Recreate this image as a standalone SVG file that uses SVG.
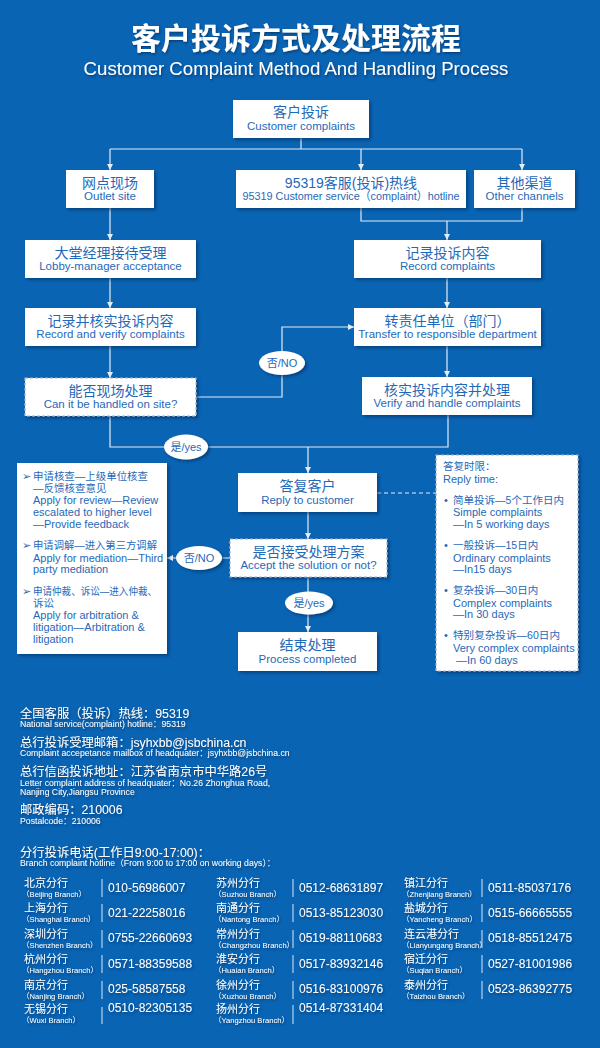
<svg xmlns="http://www.w3.org/2000/svg" width="600" height="1048" viewBox="0 0 600 1048">
<defs>
<filter id="bs" x="-10%" y="-10%" width="130%" height="140%"><feDropShadow dx="2" dy="2" stdDeviation="1.5" flood-color="#002a55" flood-opacity="0.55"/></filter>
<filter id="ts" x="-5%" y="-20%" width="110%" height="160%"><feDropShadow dx="1" dy="1.5" stdDeviation="1" flood-color="#00284f" flood-opacity="0.6"/></filter>
<marker id="ar" markerUnits="userSpaceOnUse" markerWidth="7" markerHeight="7" refX="6" refY="3" orient="auto"><path d="M0,0 L6,3 L0,6 z" fill="#e4ecf5"/></marker>
<style>
.f{font-family:"Liberation Sans","Noto Sans CJK SC",sans-serif}
.box{fill:#fff;filter:url(#bs)}
.dbox{fill:#fff;stroke:#9db3cc;stroke-width:1.2;stroke-dasharray:3 2;filter:url(#bs)}
.cn{font-size:14px;fill:#1f69b9;text-anchor:middle}
.en{font-size:11.5px;fill:#1f69b9;text-anchor:middle}
.el{fill:#fff;filter:url(#bs)}
.et{font-size:11px;fill:#1f69b9;text-anchor:middle}
.conn{fill:none;stroke:#e4ecf5;stroke-width:1.2}
.lt{font-size:11px;fill:#1f69b9}
.lc{font-size:10.5px;fill:#1f69b9}
.w{fill:#fff;filter:url(#ts)}
.h1{font-size:12.3px}
.h2{font-size:8.7px}
.bn{font-size:11px}
.bs{font-size:7.6px}
.ph{font-size:12px}
.sep{stroke:#dce6f2;stroke-width:1}
</style>
</defs>
<rect width="600" height="1048" fill="#0964b4"/>
<g id="title" class="f">
<text x="296" y="49" text-anchor="middle" font-size="30" font-weight="bold" class="w">客户投诉方式及处理流程</text>
<text x="296" y="75" text-anchor="middle" font-size="18.6" class="w">Customer Complaint Method And Handling Process</text>
</g>
<g id="connectors">
<path class="conn" d="M301,138 V149 M110,149 H522"/>
<path class="conn" d="M110,149 V170" marker-end="url(#ar)"/>
<path class="conn" d="M361,149 V170" marker-end="url(#ar)"/>
<path class="conn" d="M522,149 V170" marker-end="url(#ar)"/>
<path class="conn" d="M110,208 V240" marker-end="url(#ar)"/>
<path class="conn" d="M361,208 V221 H522 V208"/>
<path class="conn" d="M447,221 V240" marker-end="url(#ar)"/>
<path class="conn" d="M110,278 V308" marker-end="url(#ar)"/>
<path class="conn" d="M447,278 V308" marker-end="url(#ar)"/>
<path class="conn" d="M110,346 V378" marker-end="url(#ar)"/>
<path class="conn" d="M447,346 V377" marker-end="url(#ar)"/>
<path class="conn" d="M196,397 H282 V327 H354" marker-end="url(#ar)"/>
<path class="conn" d="M110,416 V447 H448 V415"/>
<path class="conn" d="M308,447 V473" marker-end="url(#ar)"/>
<path class="conn" d="M308,512 V539" marker-end="url(#ar)"/>
<path class="conn" d="M308,577 V632" marker-end="url(#ar)"/>
<path class="conn" d="M230,558 H167" marker-end="url(#ar)"/>
<path class="conn" d="M377,493 H436" stroke-dasharray="4 3"/>
</g>
<g id="n-top" class="f"><rect class="box" x="233" y="100" width="136" height="38"/><text class="cn" x="301" y="117">客户投诉</text><text class="en" x="301" y="130">Customer complaints</text></g>
<g id="n-outlet" class="f"><rect class="box" x="66" y="170" width="88" height="38"/><text class="cn" x="110" y="188">网点现场</text><text class="en" x="110" y="200">Outlet site</text></g>
<g id="n-hotline" class="f"><rect class="box" x="236" y="170" width="230" height="38"/><text class="cn" x="351" y="188">95319客服(投诉)热线</text><text class="en" x="351" y="200" font-size="11" textLength="217" lengthAdjust="spacingAndGlyphs">95319 Customer service（complaint）hotline</text></g>
<g id="n-other" class="f"><rect class="box" x="474" y="170" width="101" height="38"/><text class="cn" x="524.5" y="188">其他渠道</text><text class="en" x="524.5" y="200">Other channels</text></g>
<g id="n-lobby" class="f"><rect class="box" x="25" y="240" width="171" height="38"/><text class="cn" x="110.5" y="258">大堂经理接待受理</text><text class="en" x="110.5" y="270">Lobby-manager acceptance</text></g>
<g id="n-record" class="f"><rect class="box" x="354" y="240" width="187" height="38"/><text class="cn" x="447.5" y="258">记录投诉内容</text><text class="en" x="447.5" y="270">Record complaints</text></g>
<g id="n-verify" class="f"><rect class="box" x="25" y="308" width="171" height="38"/><text class="cn" x="110.5" y="326">记录并核实投诉内容</text><text class="en" x="110.5" y="338">Record and verify complaints</text></g>
<g id="n-transfer" class="f"><rect class="box" x="354" y="308" width="187" height="38"/><text class="cn" x="447.5" y="326">转责任单位（部门）</text><text class="en" x="447.5" y="338">Transfer to responsible department</text></g>
<g id="n-onsite" class="f"><rect class="dbox" x="25" y="378" width="171" height="38"/><text class="cn" x="110.5" y="396">能否现场处理</text><text class="en" x="110.5" y="408">Can it be handled on site?</text></g>
<g id="n-handle" class="f"><rect class="box" x="362" y="377" width="170" height="38"/><text class="cn" x="447" y="395">核实投诉内容并处理</text><text class="en" x="447" y="407">Verify and handle complaints</text></g>
<g id="n-reply" class="f"><rect class="box" x="238" y="473" width="139" height="39"/><text class="cn" x="307.5" y="491">答复客户</text><text class="en" x="307.5" y="504">Reply to customer</text></g>
<g id="n-accept" class="f"><rect class="dbox" x="230" y="539" width="157" height="38"/><text class="cn" x="308.5" y="557">是否接受处理方案</text><text class="en" x="308.5" y="569">Accept the solution or not?</text></g>
<g id="n-end" class="f"><rect class="box" x="238" y="632" width="139" height="39"/><text class="cn" x="307.5" y="650">结束处理</text><text class="en" x="307.5" y="663">Process completed</text></g>
<g id="l-no1" class="f"><ellipse class="el" cx="282" cy="363" rx="23" ry="12"/><text class="et" x="282" y="367">否/NO</text></g>
<g id="l-yes1" class="f"><ellipse class="el" cx="186" cy="447" rx="22" ry="12.5"/><text class="et" x="186" y="451">是/yes</text></g>
<g id="l-yes2" class="f"><ellipse class="el" cx="309" cy="603" rx="24" ry="11.5"/><text class="et" x="309" y="607">是/yes</text></g>
<g id="l-no2" class="f"><ellipse class="el" cx="199" cy="558" rx="23" ry="12"/><text class="et" x="199" y="562">否/NO</text></g>
<g id="n-options" class="f">
<rect class="box" x="17" y="463" width="150" height="191"/>
<text class="lt" x="22" y="480" font-family="DejaVu Sans" font-size="8">➢</text>
<text class="lc" x="33" y="480" textLength="115" lengthAdjust="spacingAndGlyphs">申请核查—上级单位核查</text>
<text class="lc" x="33" y="492">—反馈核查意见</text>
<text class="lt" x="33" y="504">Apply for review—Review</text>
<text class="lt" x="33" y="516">escalated to higher level</text>
<text class="lt" x="33" y="528">—Provide feedback</text>
<text class="lt" x="22" y="549" font-family="DejaVu Sans" font-size="8">➢</text>
<text class="lc" x="33" y="549" textLength="124" lengthAdjust="spacingAndGlyphs">申请调解—进入第三方调解</text>
<text class="lt" x="33" y="562">Apply for mediation—Third</text>
<text class="lt" x="33" y="573">party mediation</text>
<text class="lt" x="22" y="595" font-family="DejaVu Sans" font-size="8">➢</text>
<text class="lc" x="33" y="595" textLength="124" lengthAdjust="spacingAndGlyphs">申请仲裁、诉讼—进入仲裁、</text>
<text class="lc" x="33" y="607">诉讼</text>
<text class="lt" x="33" y="619">Apply for arbitration &amp;</text>
<text class="lt" x="33" y="631">litigation—Arbitration &amp;</text>
<text class="lt" x="33" y="643">litigation</text>
</g>
<g id="n-time" class="f">
<rect class="dbox" x="436" y="455" width="142" height="216"/>
<text class="lc" x="443" y="470">答复时限：</text>
<text class="lt" x="443" y="483">Reply time:</text>
<text class="lt" x="444" y="504">•</text><text class="lc" x="453" y="504" textLength="111" lengthAdjust="spacingAndGlyphs">简单投诉—5个工作日内</text>
<text class="lt" x="453" y="516">Simple complaints</text>
<text class="lt" x="453" y="528">—In 5 working days</text>
<text class="lt" x="444" y="549">•</text><text class="lc" x="453" y="549">一般投诉—15日内</text>
<text class="lt" x="453" y="562">Ordinary complaints</text>
<text class="lt" x="453" y="573">—In15 days</text>
<text class="lt" x="444" y="594">•</text><text class="lc" x="453" y="594">复杂投诉—30日内</text>
<text class="lt" x="453" y="607">Complex complaints</text>
<text class="lt" x="453" y="618">—In 30 days</text>
<text class="lt" x="444" y="639">•</text><text class="lc" x="453" y="639" textLength="107" lengthAdjust="spacingAndGlyphs">特别复杂投诉—60日内</text>
<text class="lt" x="453" y="652">Very complex complaints</text>
<text class="lt" x="456" y="664">—In 60 days</text>
</g>
<g id="info" class="f">
<text class="w h1" x="20" y="718">全国客服（投诉）热线：95319</text>
<text class="w h2" x="20" y="727">National service(complaint) hotline：95319</text>
<text class="w h1" x="20" y="747">总行投诉受理邮箱：jsyhxbb@jsbchina.cn</text>
<text class="w h2" x="20" y="756">Complaint accepetance mailbox of headquater：jsyhxbb@jsbchina.cn</text>
<text class="w h1" x="20" y="776">总行信函投诉地址：江苏省南京市中华路26号</text>
<text class="w h2" x="20" y="786">Letter complaint address of headquater：No.26 Zhonghua Road,</text>
<text class="w h2" x="20" y="795">Nanjing City,Jiangsu Province</text>
<text class="w h1" x="20" y="814">邮政编码：210006</text>
<text class="w h2" x="20" y="824">Postalcode：210006</text>
<text class="w h1" x="20" y="857">分行投诉电话(工作日9:00-17:00)：</text>
<text class="w h2" x="20" y="866">Branch complaint hotline（From 9:00 to 17:00 on working days）：</text>
</g>
<g id="branches" class="f">
<g id="b-beijing"><text class="w bn" x="24" y="887">北京分行</text><text class="w bs" x="22" y="897">（Beijing Branch）</text><line class="sep" x1="102" y1="879" x2="102" y2="897"/><text class="w ph" x="108" y="892">010-56986007</text></g>
<g id="b-shanghai"><text class="w bn" x="24" y="912">上海分行</text><text class="w bs" x="22" y="922">（Shanghai Branch）</text><line class="sep" x1="102" y1="904" x2="102" y2="922"/><text class="w ph" x="108" y="917">021-22258016</text></g>
<g id="b-shenzhen"><text class="w bn" x="24" y="938">深圳分行</text><text class="w bs" x="22" y="948">（Shenzhen Branch）</text><line class="sep" x1="102" y1="930" x2="102" y2="948"/><text class="w ph" x="108" y="942">0755-22660693</text></g>
<g id="b-hangzhou"><text class="w bn" x="24" y="963">杭州分行</text><text class="w bs" x="22" y="973">（Hangzhou Branch）</text><line class="sep" x1="102" y1="955" x2="102" y2="973"/><text class="w ph" x="108" y="968">0571-88359588</text></g>
<g id="b-nanjing"><text class="w bn" x="24" y="989">南京分行</text><text class="w bs" x="22" y="999">（Nanjing Branch）</text><line class="sep" x1="102" y1="981" x2="102" y2="999"/><text class="w ph" x="108" y="993">025-58587558</text></g>
<g id="b-wuxi"><text class="w bn" x="24" y="1013">无锡分行</text><text class="w bs" x="22" y="1023">（Wuxi Branch）</text><line class="sep" x1="102" y1="1007" x2="102" y2="1024"/><text class="w ph" x="108" y="1012">0510-82305135</text></g>
<g id="b-suzhou"><text class="w bn" x="216" y="887">苏州分行</text><text class="w bs" x="214" y="897">（Suzhou Branch）</text><line class="sep" x1="293" y1="879" x2="293" y2="897"/><text class="w ph" x="299" y="892">0512-68631897</text></g>
<g id="b-nantong"><text class="w bn" x="216" y="912">南通分行</text><text class="w bs" x="214" y="922">（Nantong Branch）</text><line class="sep" x1="293" y1="904" x2="293" y2="922"/><text class="w ph" x="299" y="917">0513-85123030</text></g>
<g id="b-changzhou"><text class="w bn" x="216" y="938">常州分行</text><text class="w bs" x="214" y="948">（Changzhou Branch）</text><line class="sep" x1="293" y1="930" x2="293" y2="948"/><text class="w ph" x="299" y="942">0519-88110683</text></g>
<g id="b-huaian"><text class="w bn" x="216" y="963">淮安分行</text><text class="w bs" x="214" y="973">（Huaian Branch）</text><line class="sep" x1="293" y1="955" x2="293" y2="973"/><text class="w ph" x="299" y="968">0517-83932146</text></g>
<g id="b-xuzhou"><text class="w bn" x="216" y="989">徐州分行</text><text class="w bs" x="214" y="999">（Xuzhou Branch）</text><line class="sep" x1="293" y1="981" x2="293" y2="999"/><text class="w ph" x="299" y="993">0516-83100976</text></g>
<g id="b-yangzhou"><text class="w bn" x="216" y="1013">扬州分行</text><text class="w bs" x="214" y="1023">（Yangzhou Branch）</text><line class="sep" x1="293" y1="1005" x2="293" y2="1024"/><text class="w ph" x="299" y="1012">0514-87331404</text></g>
<g id="b-zhenjiang"><text class="w bn" x="404" y="887">镇江分行</text><text class="w bs" x="402" y="897">（Zhenjiang Branch）</text><line class="sep" x1="482" y1="879" x2="482" y2="897"/><text class="w ph" x="488" y="892">0511-85037176</text></g>
<g id="b-yancheng"><text class="w bn" x="404" y="912">盐城分行</text><text class="w bs" x="402" y="922">（Yancheng Branch）</text><line class="sep" x1="482" y1="904" x2="482" y2="922"/><text class="w ph" x="488" y="917">0515-66665555</text></g>
<g id="b-lianyungang"><text class="w bn" x="404" y="938">连云港分行</text><text class="w bs" x="402" y="948">（Lianyungang Branch）</text><line class="sep" x1="482" y1="930" x2="482" y2="948"/><text class="w ph" x="488" y="942">0518-85512475</text></g>
<g id="b-suqian"><text class="w bn" x="404" y="963">宿迁分行</text><text class="w bs" x="402" y="973">（Suqian Branch）</text><line class="sep" x1="482" y1="955" x2="482" y2="973"/><text class="w ph" x="488" y="968">0527-81001986</text></g>
<g id="b-taizhou"><text class="w bn" x="404" y="989">泰州分行</text><text class="w bs" x="402" y="999">（Taizhou Branch）</text><line class="sep" x1="482" y1="981" x2="482" y2="999"/><text class="w ph" x="488" y="993">0523-86392775</text></g>
</g>
</svg>
